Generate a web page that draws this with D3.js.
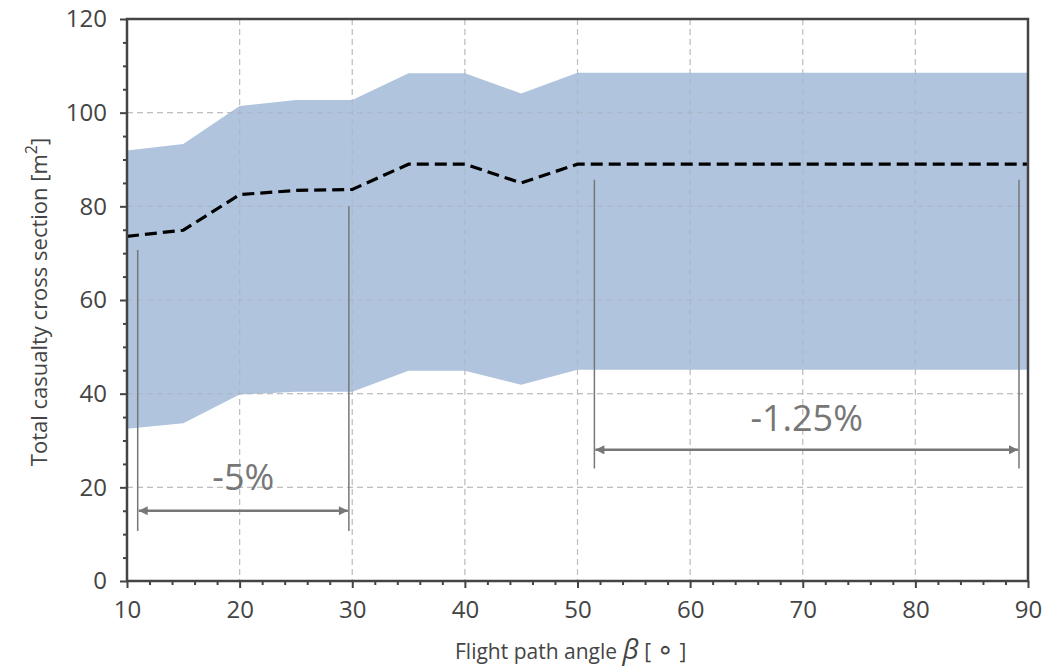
<!DOCTYPE html>
<html>
<head>
<meta charset="utf-8">
<script src="https://cdn.jsdelivr.net/npm/d3@7"></script>
<style>
  body { margin: 0; background: #fff; }
  text { font-family: "Open Sans", "DejaVu Sans", sans-serif; }
</style>
</head>
<body>
<script>
// flight path angle (deg)
const angles = [10, 15, 20, 25, 30, 35, 40, 45, 50, 55, 60, 65, 70, 75, 80, 85, 90]
// casualty cross section [m^2]
const upperVals = [91.9, 93.3, 101.4, 102.7, 102.7, 108.4, 108.4, 104.1, 108.5, 108.5, 108.5, 108.5, 108.5, 108.5, 108.5, 108.5, 108.5]
const meanVals  = [73.6, 74.9, 82.5, 83.4, 83.6, 89.0, 89.0, 85.0, 89.0, 89.0, 89.0, 89.0, 89.0, 89.0, 89.0, 89.0, 89.0]
const lowerVals = [32.5, 33.7, 39.8, 40.4, 40.4, 44.9, 44.9, 41.9, 45.1, 45.1, 45.1, 45.1, 45.1, 45.1, 45.1, 45.1, 45.1]

const xTicks = [10, 20, 30, 40, 50, 60, 70, 80, 90]
const yTicks = [0, 20, 40, 60, 80, 100, 120]

// annotations: span [x0, x1], vertical extents, arrow level, label
const annotations = [
  { label: '-5%', x0: 10.95, x1: 29.7, yTop0: 70.7, yTop1: 80.0, yBottom: 10.7, yArrow: 15, yText: 19.5 },
  { label: '-1.25%', x0: 51.5, x1: 89.2, yTop0: 85.7, yTop1: 85.7, yBottom: 24, yArrow: 28, yText: 32 }
]

const W = 1063, H = 668
const margin = { top: 19, right: 35, bottom: 87, left: 127 }
const width = W - margin.left - margin.right
const height = H - margin.top - margin.bottom

const svg = d3.select('body').append('svg')
  .attr('width', W)
  .attr('height', H)

const defs = svg.append('defs')
defs.append('marker')
  .attr('id', 'arrow')
  .attr('viewBox', '0 0 10 10')
  .attr('refX', 10).attr('refY', 5)
  .attr('markerWidth', 15).attr('markerHeight', 9)
  .attr('markerUnits', 'userSpaceOnUse')
  .attr('orient', 'auto-start-reverse')
  .append('path')
  .attr('d', 'M0,0 L10,5 L0,10 z')
  .attr('fill', '#777')

const g = svg.append('g')
  .attr('transform', 'translate(' + margin.left + ',' + margin.top + ')')

const x = d3.scaleLinear().domain([10, 90]).range([0, width])
const y = d3.scaleLinear().domain([0, 120]).range([height, 0])

function drawGrid(color, opacity) {
  const gg = g.append('g')
  gg.selectAll('line.v')
    .data(xTicks.slice(1, -1))
    .enter().append('line')
    .attr('class', 'v')
    .attr('x1', d => x(d)).attr('x2', d => x(d))
    .attr('y1', 0).attr('y2', height)
  gg.selectAll('line.h')
    .data(yTicks.slice(1, -1))
    .enter().append('line')
    .attr('class', 'h')
    .attr('y1', d => y(d)).attr('y2', d => y(d))
    .attr('x1', 0).attr('x2', width)
  gg.selectAll('line')
    .attr('stroke', color).attr('stroke-opacity', opacity)
    .attr('stroke-width', 1.2)
    .attr('stroke-dasharray', '6,4')
}

drawGrid('#ccc', 1)

const rows = angles.map((a, i) => ({ a: a, lo: lowerVals[i], hi: upperVals[i], m: meanVals[i] }))

// band
const area = d3.area()
  .x(d => x(d.a))
  .y0(d => y(d.lo))
  .y1(d => y(d.hi))
g.append('path')
  .datum(rows)
  .attr('d', area)
  .attr('fill', '#b0c4de')

// grid shows faintly over the band
drawGrid('#999', 0.25)

// mean line
const line = d3.line()
  .x(d => x(d.a))
  .y(d => y(d.m))
g.append('path')
  .datum(rows)
  .attr('d', line)
  .attr('fill', 'none')
  .attr('stroke', '#000')
  .attr('stroke-width', 3.2)
  .attr('stroke-dasharray', '12,6')

// annotations
for (const an of annotations) {
  const ag = g.append('g').attr('stroke', '#777').attr('stroke-width', 1.5)
  ag.append('line')
    .attr('x1', x(an.x0)).attr('x2', x(an.x0))
    .attr('y1', y(an.yTop0)).attr('y2', y(an.yBottom))
  ag.append('line')
    .attr('x1', x(an.x1)).attr('x2', x(an.x1))
    .attr('y1', y(an.yTop1)).attr('y2', y(an.yBottom))
  ag.append('line')
    .attr('x1', x(an.x0) + 1).attr('x2', x(an.x1) - 1)
    .attr('y1', y(an.yArrow)).attr('y2', y(an.yArrow))
    .attr('stroke-width', 2.5)
    .attr('marker-start', 'url(#arrow)')
    .attr('marker-end', 'url(#arrow)')
  g.append('text')
    .attr('x', x((an.x0 + an.x1) / 2))
    .attr('y', y(an.yText))
    .attr('text-anchor', 'middle')
    .attr('fill', '#777')
    .attr('font-size', 36)
    .text(an.label)
}

// axes
g.append('g')
  .attr('transform', 'translate(0,' + height + ')')
  .call(d3.axisBottom(x).tickValues(xTicks).tickSize(7).tickPadding(13).tickFormat(d3.format('d')))
g.append('g')
  .attr('transform', 'translate(0,' + height + ')')
  .call(d3.axisBottom(x).tickValues(d3.range(12, 90, 2).filter(v => v % 10 !== 0)).tickSize(4).tickFormat(''))
g.append('g')
  .call(d3.axisLeft(y).tickValues(yTicks).tickSize(7).tickPadding(13).tickFormat(d3.format('d')))
g.append('g')
  .call(d3.axisLeft(y).tickValues(d3.range(5, 120, 5).filter(v => v % 20 !== 0)).tickSize(4).tickFormat(''))

g.selectAll('.domain').remove()
g.selectAll('.tick line').attr('stroke', '#444').attr('stroke-width', 2)
g.selectAll('.tick text').attr('fill', '#444').attr('font-size', 24)
  .style('font-family', '"Open Sans", "DejaVu Sans", sans-serif')

// frame
g.append('rect')
  .attr('x', 0).attr('y', 0)
  .attr('width', width).attr('height', height)
  .attr('fill', 'none')
  .attr('stroke', '#444')
  .attr('stroke-width', 2.5)

// axis labels
const xl = svg.append('text')
  .attr('x', 455)
  .attr('y', 659)
  .attr('fill', '#444')
  .attr('font-size', 21)
xl.append('tspan').text('Flight path angle ')
xl.append('tspan').attr('font-style', 'italic').attr('font-size', 28).text('β')
xl.append('tspan').text(' [ ')
xl.append('tspan').attr('font-size', 28).text('∘')
xl.append('tspan').text(' ]')

const yl = svg.append('text')
  .attr('transform', 'translate(47,' + (margin.top + height / 2 + 2) + ') rotate(-90)')
  .attr('text-anchor', 'middle')
  .attr('fill', '#444')
  .attr('font-size', 22)
yl.append('tspan').text('Total casualty cross section [m')
yl.append('tspan').attr('dy', -10).attr('font-size', 16).text('2')
yl.append('tspan').attr('dy', 10).text(']')
</script>
</body>
</html>
